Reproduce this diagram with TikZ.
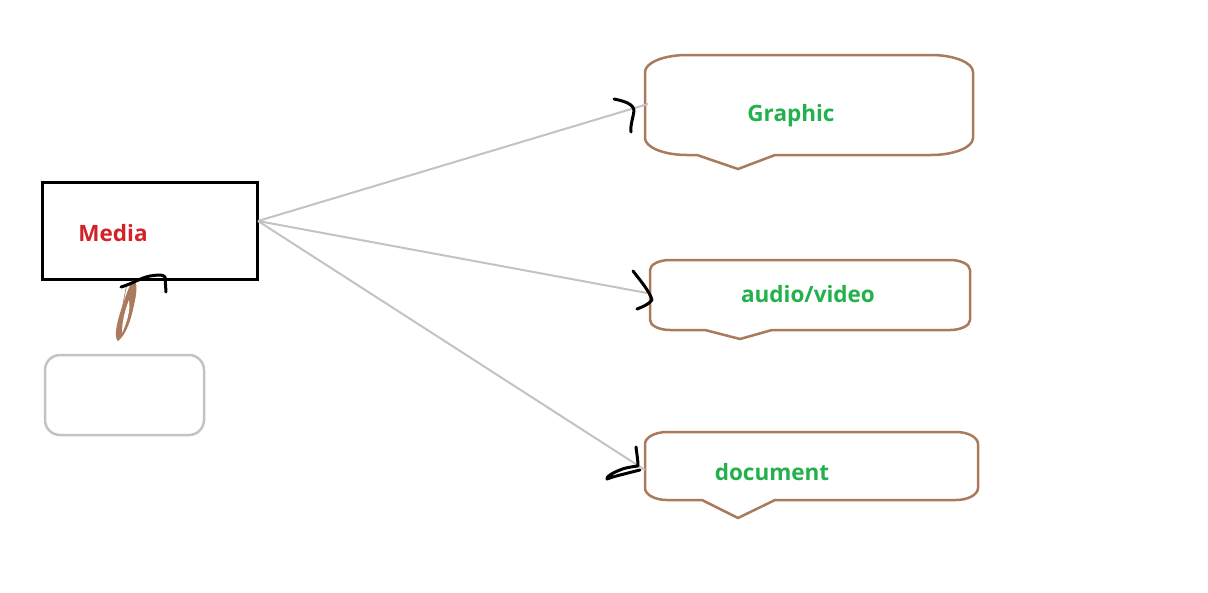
\documentclass[tikz,border=0pt]{standalone}
\usepackage{fontspec}
\setmainfont{Open Sans}
\definecolor{pgreen}{RGB}{34,177,76}
\definecolor{pred}{RGB}{210,35,42}
\definecolor{pbrown}{RGB}{170,122,92}
\definecolor{pgray}{RGB}{195,195,195}
\newcommand{\calloutshape}[9]{%
  % #1 L, #2 T, #3 R, #4 B, #5 rx, #6 ry, #7 p1, #8 tip x, #9 tip y ; p2 in \cpr
  \draw[callout] (#1,#2+#6) .. controls (#1,#2+0.45*#6) and (#1+0.45*#5,#2) .. (#1+#5,#2)
    -- (#3-#5,#2) .. controls (#3-0.45*#5,#2) and (#3,#2+0.45*#6) .. (#3,#2+#6)
    -- (#3,#4-#6) .. controls (#3,#4-0.45*#6) and (#3-0.45*#5,#4) .. (#3-#5,#4)
    -- (\cpr,#4) -- (#8,#9) -- (#7,#4)
    -- (#1+#5,#4) .. controls (#1+0.45*#5,#4) and (#1,#4-0.45*#6) .. (#1,#4-#6) -- cycle;}
\begin{document}
\begin{tikzpicture}[x=1pt,y=-1pt,
  callout/.style={draw=pbrown,line width=2.5pt,line join=round},
  conn/.style={draw=pgray,line width=2pt},
  hook/.style={draw=black,line width=3pt,line cap=round,line join=round},
  greentext/.style={text=pgreen,font=\bfseries\fontsize{22.5}{26}\selectfont,inner sep=0pt,anchor=base},
  redtext/.style={text=pred,font=\bfseries\fontsize{22.5}{26}\selectfont,inner sep=0pt,anchor=base},
  mediabox/.style={draw=black,line width=3pt,minimum width=215pt,minimum height=97pt,inner sep=0pt},
  graybox/.style={draw=pgray,line width=2.5pt,rounded corners=15pt,minimum width=159pt,minimum height=80pt,inner sep=0pt}]
\useasboundingbox (0,0) rectangle (1208,592);
\fill[white] (0,0) rectangle (1208,592);

% media box
\node[mediabox] (media) at (149.5,230.5) {};
\node[redtext] (medialabel) at (113,241) {Media};
\node[graybox] (empty) at (124.5,395) {};

% callouts
\def\cpr{775}
\calloutshape{645}{55}{973}{155}{42}{17}{697}{738}{169}
\def\cpr{772}
\calloutshape{650}{260}{970}{330}{20}{10}{705}{740}{339}
\def\cpr{775}
\calloutshape{645}{432}{978}{500}{22}{12}{702}{738}{518}

\node[greentext] (graphic) at (791,121) {Graphic};
\node[greentext] (audio) at (808,302) {audio/video};
\node[greentext] (document) at (772,480) {document};

% connectors
\coordinate (src) at (258,221);
\coordinate (gin) at (648,104);
\coordinate (ain) at (647,293);
\coordinate (din) at (645,470);
\draw[conn] (src) -- (gin);
\draw[conn] (src) -- (ain);
\draw[conn] (src) -- (din);

% hand-drawn arrow heads
\draw[hook] (614,99) .. controls (624,101) and (634,104) .. (634,111) .. controls (633,118) and (630,126) .. (631,132);
\draw[hook] (633,271) .. controls (640,280) and (650,292) .. (652,300) .. controls (648,305) and (642,307) .. (637,309);
\draw[hook] (636,447) .. controls (637,455) and (638,461) .. (638,466) .. controls (630,467) and (624,468) .. (620,470)
  .. controls (612,473) and (606,477) .. (607,479) .. controls (612,477) and (620,475) .. (628,473) -- (640,470);

% brown scribble from empty box to media
\fill[pbrown] (133,280) .. controls (138,282) and (137,292) .. (134,305)
  .. controls (131,320) and (126,335) .. (118,341)
  .. controls (114,338) and (116,325) .. (121,310)
  .. controls (125,298) and (129,286) .. (133,280) -- cycle;
\fill[white] (129,300) .. controls (131,310) and (126,325) .. (122,333) .. controls (122,322) and (125,310) .. (129,300) -- cycle;
\draw[pbrown,line width=0.6pt] (127,283) -- (118,330);
% black hook on media box
\draw[hook] (121,287) .. controls (132,284) and (140,278) .. (150,276) .. controls (157,275) and (163,274) .. (165,277) -- (166,292);
\end{tikzpicture}
\end{document}
